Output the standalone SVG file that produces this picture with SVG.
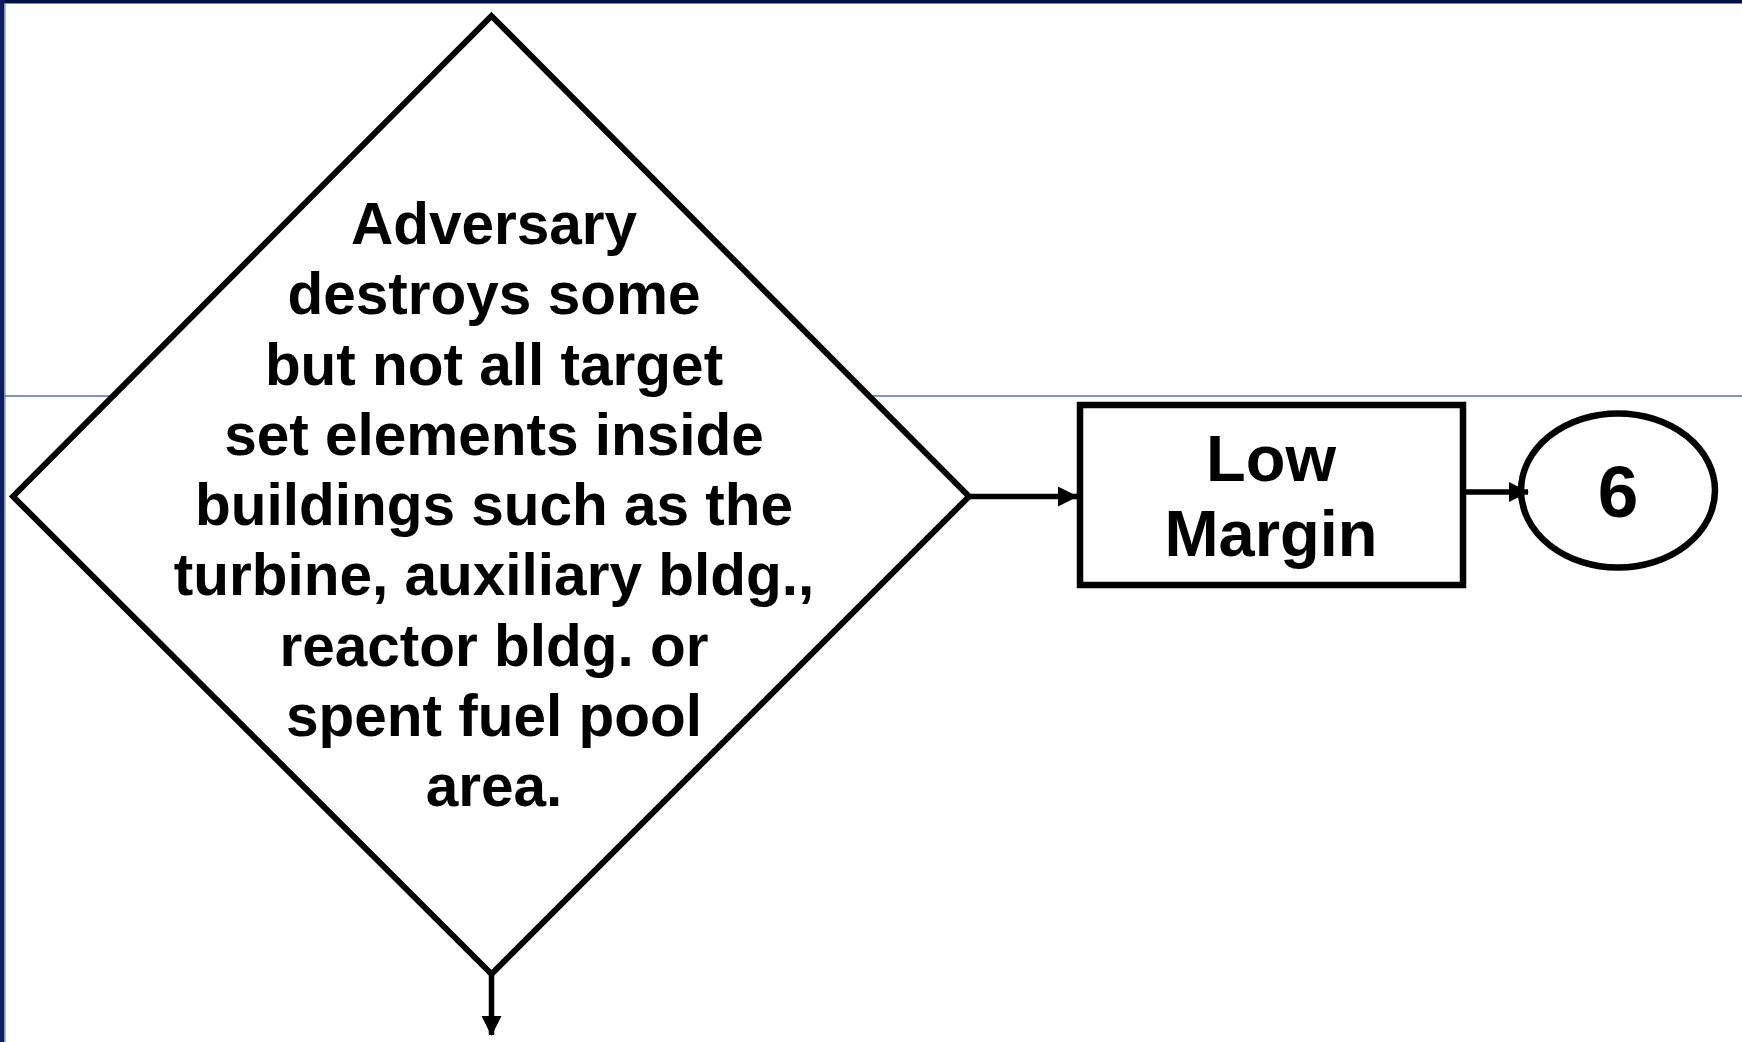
<svg xmlns="http://www.w3.org/2000/svg" width="1742" height="1042" viewBox="0 0 1742 1042">
<defs>
<style>
.shape{fill:#ffffff;stroke:#000000;}
.lbl{font-family:"Liberation Sans",Arial,sans-serif;font-weight:bold;fill:#000000;text-anchor:middle;}
.conn{stroke:#000000;stroke-width:5.5;fill:none;}
</style>
<marker id="arr" markerUnits="userSpaceOnUse" markerWidth="20" markerHeight="22" refX="19" refY="10" orient="auto">
<path d="M0,0 L20,10 L0,20 Z" fill="#000000"/>
</marker>
</defs>
<rect x="0" y="0" width="1742" height="1042" fill="#ffffff"/>
<rect x="0" y="0" width="1742" height="3.5" fill="#021245"/>
<rect x="0" y="0" width="4.5" height="1042" fill="#0a1f5c"/>
<rect x="4.5" y="3.5" width="1.2" height="1038.5" fill="#9a9a9a"/>
<line x1="5" y1="396" x2="1742" y2="396" stroke="#0a2a78" stroke-width="1.2"/>
<g id="decision">
<polygon class="shape" points="491.5,16 969,496.5 491.5,974 13,496.5" stroke-width="6"/>
<g class="lbl" font-size="58.5">
<text x="494" y="244">Adversary</text>
<text x="494" y="314.3">destroys some</text>
<text x="494" y="384.5">but not all target</text>
<text x="494" y="454.7">set elements inside</text>
<text x="494" y="525">buildings such as the</text>
<text x="494" y="595.3">turbine, auxiliary bldg.,</text>
<text x="494" y="665.5">reactor bldg. or</text>
<text x="494" y="735.7">spent fuel pool</text>
<text x="494" y="806">area.</text>
</g>
</g>
<g id="low-margin">
<rect class="shape" x="1080" y="405" width="383" height="180" stroke-width="6.5"/>
<g class="lbl" font-size="65">
<text x="1271" y="481">Low</text>
<text x="1271" y="555.5">Margin</text>
</g>
</g>
<g id="terminal-6">
<ellipse class="shape" cx="1618" cy="490.5" rx="97" ry="77" stroke-width="6.5"/>
<text class="lbl" font-size="73" x="1618" y="516.5">6</text>
</g>
<g id="connectors">
<line class="conn" x1="969" y1="496.5" x2="1077" y2="496.5" marker-end="url(#arr)"/>
<line class="conn" x1="1463" y1="492" x2="1528" y2="492" marker-end="url(#arr)"/>
<line class="conn" x1="491.5" y1="974" x2="491.5" y2="1035" marker-end="url(#arr)"/>
</g>
</svg>
